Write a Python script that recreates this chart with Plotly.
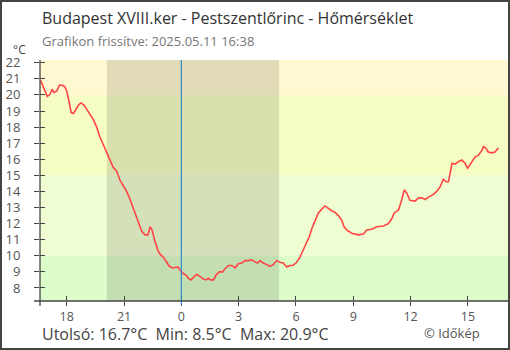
import pandas as pd
import plotly.graph_objects as go

# Temperature readings (°C), Budapest XVIII. ker - Pestszentlőrinc
times = [
    "2025-05-10 16:38", "2025-05-10 16:59", "2025-05-10 17:08", "2025-05-10 17:14",
    "2025-05-10 17:20", "2025-05-10 17:29", "2025-05-10 17:37", "2025-05-10 17:46",
    "2025-05-10 17:54", "2025-05-10 18:00", "2025-05-10 18:06", "2025-05-10 18:10",
    "2025-05-10 18:14", "2025-05-10 18:21", "2025-05-10 18:29", "2025-05-10 18:38",
    "2025-05-10 18:45", "2025-05-10 18:55", "2025-05-10 19:03", "2025-05-10 19:13",
    "2025-05-10 19:24", "2025-05-10 19:34", "2025-05-10 19:44", "2025-05-10 19:55",
    "2025-05-10 20:05", "2025-05-10 20:16", "2025-05-10 20:26", "2025-05-10 20:37",
    "2025-05-10 20:47", "2025-05-10 20:58", "2025-05-10 21:08", "2025-05-10 21:19",
    "2025-05-10 21:28", "2025-05-10 21:38", "2025-05-10 21:47", "2025-05-10 21:56",
    "2025-05-10 22:06", "2025-05-10 22:15", "2025-05-10 22:22", "2025-05-10 22:28",
    "2025-05-10 22:37", "2025-05-10 22:47", "2025-05-10 22:53", "2025-05-10 23:04",
    "2025-05-10 23:14", "2025-05-10 23:22", "2025-05-10 23:33", "2025-05-10 23:43",
    "2025-05-10 23:50", "2025-05-10 23:58", "2025-05-11 00:06", "2025-05-11 00:15",
    "2025-05-11 00:22", "2025-05-11 00:30", "2025-05-11 00:38", "2025-05-11 00:48",
    "2025-05-11 00:59", "2025-05-11 01:09", "2025-05-11 01:17", "2025-05-11 01:25",
    "2025-05-11 01:32", "2025-05-11 01:41", "2025-05-11 01:49", "2025-05-11 01:59",
    "2025-05-11 02:10", "2025-05-11 02:17", "2025-05-11 02:28", "2025-05-11 02:38",
    "2025-05-11 02:49", "2025-05-11 02:59", "2025-05-11 03:10", "2025-05-11 03:20",
    "2025-05-11 03:31", "2025-05-11 03:41", "2025-05-11 03:49", "2025-05-11 03:59",
    "2025-05-11 04:07", "2025-05-11 04:17", "2025-05-11 04:28", "2025-05-11 04:38",
    "2025-05-11 04:49", "2025-05-11 04:59", "2025-05-11 05:10", "2025-05-11 05:20",
    "2025-05-11 05:31", "2025-05-11 05:41", "2025-05-11 05:50", "2025-05-11 06:00",
    "2025-05-11 06:11", "2025-05-11 06:21", "2025-05-11 06:32", "2025-05-11 06:42",
    "2025-05-11 06:50", "2025-05-11 07:00", "2025-05-11 07:10", "2025-05-11 07:21",
    "2025-05-11 07:31", "2025-05-11 07:42", "2025-05-11 07:52", "2025-05-11 08:03",
    "2025-05-11 08:13", "2025-05-11 08:24", "2025-05-11 08:31", "2025-05-11 08:40",
    "2025-05-11 08:55", "2025-05-11 09:16", "2025-05-11 09:32", "2025-05-11 09:42",
    "2025-05-11 09:58", "2025-05-11 10:14", "2025-05-11 10:35", "2025-05-11 10:50",
    "2025-05-11 11:01", "2025-05-11 11:08", "2025-05-11 11:22", "2025-05-11 11:32",
    "2025-05-11 11:40", "2025-05-11 11:48", "2025-05-11 11:58", "2025-05-11 12:14",
    "2025-05-11 12:25", "2025-05-11 12:35", "2025-05-11 12:46", "2025-05-11 12:56",
    "2025-05-11 13:11", "2025-05-11 13:22", "2025-05-11 13:33", "2025-05-11 13:43",
    "2025-05-11 13:52", "2025-05-11 13:59", "2025-05-11 14:04", "2025-05-11 14:10",
    "2025-05-11 14:20", "2025-05-11 14:30", "2025-05-11 14:41", "2025-05-11 14:51",
    "2025-05-11 14:59", "2025-05-11 15:12", "2025-05-11 15:23", "2025-05-11 15:33",
    "2025-05-11 15:44", "2025-05-11 15:49", "2025-05-11 15:56", "2025-05-11 16:04",
    "2025-05-11 16:15", "2025-05-11 16:25", "2025-05-11 16:36",
]
temps = [
    20.9, 19.9, 20.05, 20.35, 20.15, 20.25, 20.6, 20.6,
    20.5, 20.25, 19.7, 19.3, 18.9, 18.85, 19.1, 19.4,
    19.5, 19.35, 19.1, 18.75, 18.45, 18.0, 17.4, 16.9,
    16.4, 15.95, 15.5, 15.25, 14.7, 14.35, 14.0, 13.5,
    13.0, 12.4, 11.9, 11.5, 11.3, 11.3, 11.8, 11.6,
    10.9, 10.3, 10.1, 9.9, 9.6, 9.35, 9.25, 9.3,
    9.3, 9.05, 8.9, 8.8, 8.6, 8.5, 8.65, 8.85,
    8.7, 8.55, 8.5, 8.6, 8.5, 8.5, 8.8, 9.0,
    9.0, 9.2, 9.4, 9.4, 9.25, 9.5, 9.55, 9.7,
    9.7, 9.75, 9.65, 9.55, 9.7, 9.55, 9.45, 9.35,
    9.45, 9.7, 9.6, 9.55, 9.3, 9.4, 9.4, 9.55,
    9.85, 10.3, 10.7, 11.2, 11.7, 12.2, 12.65, 12.9,
    13.1, 12.95, 12.8, 12.7, 12.5, 12.2, 11.8, 11.6,
    11.4, 11.3, 11.35, 11.6, 11.65, 11.8, 11.85, 12.0,
    12.3, 12.65, 12.85, 13.45, 14.1, 13.9, 13.45, 13.4,
    13.6, 13.6, 13.5, 13.65, 13.8, 14.0, 14.3, 14.75,
    14.6, 14.6, 15.15, 15.75, 15.7, 15.85, 15.95, 15.75,
    15.45, 15.85, 16.15, 16.25, 16.55, 16.8, 16.7, 16.45,
    16.4, 16.45, 16.7,
]

# Temperature bands: (lower, upper, fill colour)
band_edges = [7.19, 10, 15, 20, 22.17]
band_colors = ["#dcfcc9", "#effdd2", "#f6fdc4", "#fff8d0"]

sunset = "2025-05-10 20:06"
sunrise = "2025-05-11 05:07"
midnight = "2025-05-11 00:00"
x_range = ["2025-05-10 16:36", "2025-05-11 17:06"]
y_range = [band_edges[0], band_edges[-1]]

title = "Budapest XVIII.ker - Pestszentlőrinc - Hőmérséklet"
subtitle = "Grafikon frissítve: 2025.05.11 16:38"
summary = "Utolsó: 16.7°C  Min: 8.5°C  Max: 20.9°C"
credit = "© Időkép"

FONT = "Open Sans, Noto Sans, sans-serif"
AXIS = "#444444"

# layout geometry in pixels
W, H = 510, 350
L, R, T, B = 40, 2, 60, 49
PW, PH = W - L - R, H - T - B


def px(x):
    return (x - L) / PW


def py(y):
    return (H - B - y) / PH


x = pd.to_datetime(times)

fig = go.Figure()
fig.add_trace(go.Scatter(
    x=x, y=temps, mode="lines",
    line=dict(color="#ff4444", width=1.6),
    hoverinfo="skip", showlegend=False,
))
# invisible twin used for the inner half of the crossing tick marks
fig.add_trace(go.Scatter(
    x=x, y=temps, mode="lines", xaxis="x2", yaxis="y2",
    line=dict(color="rgba(0,0,0,0)", width=0),
    hoverinfo="skip", showlegend=False,
))

shapes = []
for lo, hi, col in zip(band_edges[:-1], band_edges[1:], band_colors):
    shapes.append(dict(type="rect", xref="paper", yref="y", x0=0, x1=1,
                       y0=lo, y1=hi, fillcolor=col, line_width=0, layer="below"))
shapes.append(dict(type="rect", xref="x", yref="paper", x0=sunset, x1=sunrise,
                   y0=0, y1=1, fillcolor="rgba(0,0,0,0.115)", line_width=0,
                   layer="below"))
shapes.append(dict(type="line", xref="x", yref="paper", x0=midnight, x1=midnight,
                   y0=py(305), y1=1, line=dict(color="#2f8ad0", width=1.2)))
# axis lines that run slightly past the corner
shapes.append(dict(type="line", xref="paper", yref="paper", x0=px(34), x1=1,
                   y0=0, y1=0, line=dict(color=AXIS, width=1.3)))
shapes.append(dict(type="line", xref="paper", yref="paper", x0=0, x1=0,
                   y0=py(306), y1=1, line=dict(color=AXIS, width=1.3)))
# outer frame
shapes.append(dict(type="rect", xref="paper", yref="paper",
                   x0=px(1), x1=px(509), y0=py(349), y1=py(1),
                   line=dict(color=AXIS, width=2), fillcolor="rgba(0,0,0,0)"))

annotations = [
    dict(text=title, x=px(40), y=py(18), xanchor="left", yanchor="middle",
         font=dict(size=16, color="#333333", family=FONT)),
    dict(text=subtitle, x=px(40), y=py(41), xanchor="left", yanchor="middle",
         font=dict(size=13, color="#777777", family=FONT)),
    dict(text="°C", x=px(19), y=py(50), xanchor="center", yanchor="middle",
         font=dict(size=12, color="#444444", family=FONT)),
    dict(text=summary, x=px(40), y=py(334), xanchor="left", yanchor="middle",
         font=dict(size=16, color="#444444", family=FONT)),
    dict(text=credit, x=px(482), y=py(333), xanchor="right", yanchor="middle",
         font=dict(size=13, color="#555555", family=FONT)),
]
for a in annotations:
    a.update(xref="paper", yref="paper", showarrow=False)

tick_x = dict(type="date", range=x_range, tick0=midnight, dtick=3 * 3600 * 1000,
              tickformat="%-H", tickwidth=1.2, tickcolor=AXIS,
              showgrid=False, zeroline=False, showline=False, fixedrange=True)
tick_y = dict(range=y_range, tick0=8, dtick=1, ticklen=5, tickwidth=1.2,
              tickcolor=AXIS, showgrid=False, zeroline=False, showline=False,
              fixedrange=True)

fig.update_layout(
    width=W, height=H,
    margin=dict(l=L, r=R, t=T, b=B, pad=0),
    paper_bgcolor="white", plot_bgcolor="rgba(0,0,0,0)",
    font=dict(family=FONT, size=13, color="#555555"),
    xaxis=dict(tick_x, ticks="outside", ticklen=4,
               tickfont=dict(size=12.5, color="#555555", family=FONT),
               ticklabelstandoff=0),
    yaxis=dict(tick_y, ticks="outside",
               tickfont=dict(size=13, color="#555555", family=FONT),
               ticklabelstandoff=11),
    xaxis2=dict(tick_x, ticks="inside", ticklen=5, overlaying="x", anchor="y2",
                showticklabels=False),
    yaxis2=dict(tick_y, ticks="inside", overlaying="y", anchor="x2",
                showticklabels=False),
    shapes=shapes,
    annotations=annotations,
    showlegend=False,
)

fig.write_html("out.html", config={"displayModeBar": False})
